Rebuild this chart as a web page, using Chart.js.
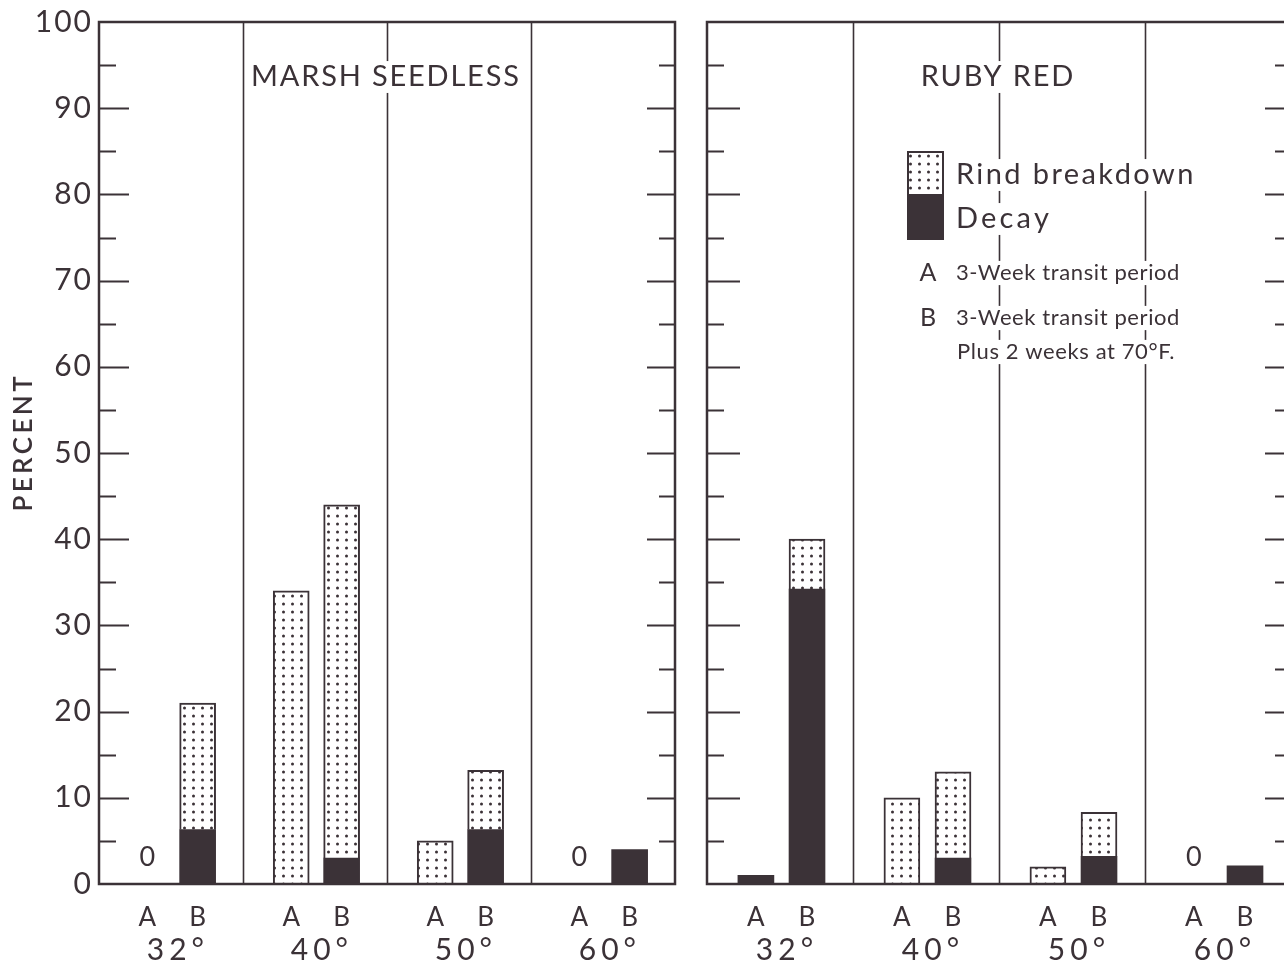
<!DOCTYPE html>
<html>
<head>
<meta charset="utf-8">
<title>Rind breakdown and decay — Marsh Seedless and Ruby Red</title>
<script src="https://cdn.jsdelivr.net/npm/chart.js@4.4.1/dist/chart.umd.min.js"></script>
<style>
  html, body { margin: 0; padding: 0; background: #fff; overflow: hidden; width: 1284px; height: 967px; }
  #wrap { position: relative; width: 1284px; height: 967px; overflow: hidden; background: #fff; }
  .panel { position: absolute; top: 0; height: 967px; }
  #leftBox { left: 0; width: 690px; }
  #rightBox { left: 690px; width: 610px; }
</style>
</head>
<body>
<div id="wrap">
  <div class="panel" id="leftBox"><canvas id="leftChart" width="690" height="967"></canvas></div>
  <div class="panel" id="rightBox"><canvas id="rightChart" width="610" height="967"></canvas></div>
</div>
<script>
// Storage temperatures and the two examination periods
const temperatures = ['32°', '40°', '50°', '60°'];
const periods = ['A', 'B'];
const yTickValues = [0, 10, 20, 30, 40, 50, 60, 70, 80, 90, 100];

// Values per bar, ordered 32A, 32B, 40A, 40B, 50A, 50B, 60A, 60B (percent)
const marshDecay = [0, 6.3, 0, 3.0, 0, 6.3, 0, 4.0];
const marshRind  = [0, 14.7, 34, 41, 5, 6.9, 0, 0];
const rubyDecay  = [1.0, 34.2, 0, 3.0, 0, 3.2, 0, 2.1];
const rubyRind   = [0, 5.8, 10, 10, 2, 5.1, 0, 0];

const INK = '#3b3237';
const FONT = 'Lato, "Open Sans", sans-serif';
// position of each period's bar inside a temperature group (group width = 1)
const PERIOD_OFFSET = [0.335, 0.685];

// dotted fill used for rind breakdown
function makeDotPattern() {
  const c = document.createElement('canvas');
  c.width = 9; c.height = 8;
  const g = c.getContext('2d');
  g.fillStyle = '#fff';
  g.fillRect(0, 0, 9, 8);
  g.fillStyle = INK;
  g.beginPath();
  g.arc(4.5, 4, 1.5, 0, Math.PI * 2);
  g.fill();
  return g.createPattern(c, 'repeat');
}
const dotPattern = makeDotPattern();

function toPoints(values, skipZero) {
  return values.map((v, i) => ({
    x: Math.floor(i / 2) + PERIOD_OFFSET[i % 2],
    y: (skipZero && v === 0) ? null : v
  }));
}

function drawText(ctx, s, x, y, size, o = {}) {
  const spacing = o.spacing || 0;
  ctx.save();
  ctx.font = (o.weight || 'normal') + ' ' + size + 'px ' + FONT;
  ctx.letterSpacing = spacing + 'px';
  ctx.textBaseline = 'middle';
  ctx.textAlign = 'left';
  const w = ctx.measureText(s).width - spacing;
  let left = x;
  if (o.align === 'center' || !o.align) left = x - w / 2;
  else if (o.align === 'right') left = x - w;
  if (o.mask) {
    ctx.fillStyle = '#fff';
    ctx.fillRect(left - 4, y - size * 0.55, w + 8, size * 1.1);
  }
  ctx.fillStyle = INK;
  ctx.fillText(s, left, y);
  ctx.restore();
  return w;
}

function panelPlugin(cfg) {
  return {
    id: 'panelDecor',
    beforeDatasetsDraw(chart) {
      const { ctx, chartArea: a, scales: { x, y } } = chart;
      ctx.save();
      ctx.strokeStyle = INK;
      // temperature dividers
      ctx.lineWidth = 1.6;
      for (let k = 1; k < temperatures.length; k++) {
        const px = Math.round(x.getPixelForValue(k)) + 0.5;
        ctx.beginPath();
        ctx.moveTo(px, a.top);
        ctx.lineTo(px, a.bottom);
        ctx.stroke();
      }
      // inward ticks every 5 percent on both sides
      ctx.lineWidth = 2;
      for (let v = 5; v < 100; v += 5) {
        const py = Math.round(y.getPixelForValue(v)) + 0.5;
        const major = v % 10 === 0;
        const lenL = major ? cfg.tickMajorL : 17;
        const lenR = major ? cfg.tickMajorR : 16;
        ctx.beginPath();
        ctx.moveTo(a.left, py); ctx.lineTo(a.left + lenL, py);
        ctx.moveTo(a.right, py); ctx.lineTo(a.right - lenR, py);
        ctx.stroke();
      }
      ctx.restore();
    },
    afterDatasetsDraw(chart) {
      const { ctx, chartArea: a, scales: { x, y } } = chart;
      ctx.save();
      // frame
      ctx.strokeStyle = INK;
      ctx.lineWidth = 2.5;
      ctx.strokeRect(a.left, a.top, a.right - a.left, a.bottom - a.top);
      ctx.restore();

      // panel title
      drawText(ctx, cfg.title, (a.left + a.right) / 2 - 2, 77, 29, { spacing: 1.8, mask: true });

      // "0" marks over empty bars
      const d = cfg.decay, r = cfg.rind;
      for (let i = 0; i < d.length; i++) {
        if (d[i] + r[i] === 0) {
          const px = x.getPixelForValue(Math.floor(i / 2) + PERIOD_OFFSET[i % 2]);
          drawText(ctx, '0', px, y.getPixelForValue(3.1), 27);
        }
      }

      // category labels
      temperatures.forEach((t, k) => {
        const pa = x.getPixelForValue(k + PERIOD_OFFSET[0]);
        const pb = x.getPixelForValue(k + PERIOD_OFFSET[1]);
        drawText(ctx, periods[0], pa, a.bottom + 34, 26);
        drawText(ctx, periods[1], pb, a.bottom + 34, 26);
        drawText(ctx, t, (pa + pb) / 2 + 3, a.bottom + 66, 30, { spacing: 5 });
      });

      if (cfg.yLabels) {
        yTickValues.forEach(v => {
          drawText(ctx, String(v), a.left - 8, y.getPixelForValue(v), 30, { align: 'right', spacing: 2 });
        });
        ctx.save();
        ctx.translate(24, (a.top + a.bottom) / 2 - 9);
        ctx.rotate(-Math.PI / 2);
        drawText(ctx, 'PERCENT', 0, 0, 26, { spacing: 3.4, weight: '600' });
        ctx.restore();
      }

      if (cfg.legend) {
        const lx = a.left + 200, ly = 151;
        // key box: dotted upper half, solid lower half
        ctx.save();
        ctx.fillStyle = dotPattern;
        ctx.fillRect(lx, ly, 37, 43);
        ctx.strokeStyle = INK;
        ctx.lineWidth = 2;
        ctx.strokeRect(lx + 1, ly + 1, 35, 43);
        ctx.fillStyle = INK;
        ctx.fillRect(lx, ly + 43, 37, 46);
        ctx.restore();
        drawText(ctx, 'Rind breakdown', lx + 49, 175, 29, { align: 'left', spacing: 2.4, mask: true });
        drawText(ctx, 'Decay', lx + 49, 219, 29, { align: 'left', spacing: 3.2, mask: true });
        drawText(ctx, 'A', lx + 21, 273, 25, { mask: true });
        drawText(ctx, '3-Week transit period', lx + 49, 273, 22, { align: 'left', spacing: 0.6, mask: true });
        drawText(ctx, 'B', lx + 21, 318, 25, { mask: true });
        drawText(ctx, '3-Week transit period', lx + 49, 318, 22, { align: 'left', spacing: 0.6, mask: true });
        drawText(ctx, 'Plus 2 weeks at 70°F.', lx + 50, 352, 22, { align: 'left', spacing: 0.6, mask: true });
      }
    }
  };
}

function buildPanel(canvasId, decay, rind, cfg) {
  cfg.decay = decay; cfg.rind = rind;
  return new Chart(document.getElementById(canvasId), {
    type: 'bar',
    data: {
      datasets: [
        {
          label: 'Decay',
          data: toPoints(decay, true),
          backgroundColor: INK,
          borderWidth: 0,
          barThickness: 36
        },
        {
          label: 'Rind breakdown',
          data: toPoints(rind, true),
          backgroundColor: dotPattern,
          borderColor: INK,
          borderWidth: 2,
          barThickness: 36
        }
      ]
    },
    options: {
      responsive: false,
      animation: false,
      events: [],
      layout: { padding: cfg.padding },
      plugins: { legend: { display: false }, tooltip: { enabled: false } },
      scales: {
        x: { type: 'linear', min: 0, max: 4, offset: false, display: false, stacked: true },
        y: { min: 0, max: 100, display: false, stacked: true }
      }
    },
    plugins: [panelPlugin(cfg)]
  });
}

buildPanel('leftChart', marshDecay, marshRind, {
  title: 'MARSH SEEDLESS',
  padding: { left: 99, right: 15, top: 22, bottom: 83 },
  tickMajorL: 30, tickMajorR: 28,
  yLabels: true, legend: false
});

buildPanel('rightChart', rubyDecay, rubyRind, {
  title: 'RUBY RED',
  padding: { left: 17, right: 9, top: 22, bottom: 83 },
  tickMajorL: 33, tickMajorR: 26,
  yLabels: false, legend: true
});
</script>
</body>
</html>
